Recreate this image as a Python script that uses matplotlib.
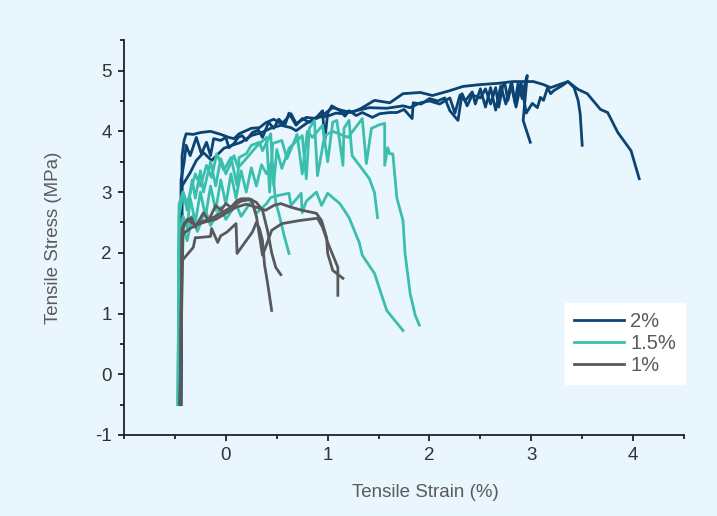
import matplotlib
matplotlib.use('Agg')
import matplotlib.pyplot as plt
from matplotlib.ticker import MultipleLocator

plt.rcParams['font.family'] = ['Liberation Sans', 'DejaVu Sans']
plt.rcParams['axes.unicode_minus'] = False

# ---- 2% samples (strain %, stress MPa) ----
s2_a_x = [-0.44, -0.43, -0.41, -0.39, -0.32, -0.25, -0.15, -0.05, 0.03, 0.08, 0.13, 0.25, 0.33, 0.39,
          0.47, 0.55, 0.64, 0.69, 0.79, 0.89, 0.97, 1.05, 1.15, 1.24, 1.33, 1.46, 1.61, 1.74, 1.91,
          2.03, 2.2, 2.33, 2.5, 2.67, 2.82, 3.02, 3.12, 3.19, 3.36, 3.46, 3.55, 3.68, 3.75, 3.85, 3.98, 4.06]
s2_a_y = [-0.5, 3.6, 3.85, 3.96, 3.95, 3.98, 4.0, 3.95, 3.9, 3.88, 3.96, 4.05, 4.06, 4.14,
          4.2, 4.12, 4.29, 4.13, 4.23, 4.21, 4.29, 4.39, 4.34, 4.31, 4.38, 4.51, 4.47, 4.62, 4.64,
          4.59, 4.67, 4.74, 4.77, 4.79, 4.82, 4.82, 4.77, 4.72, 4.82, 4.69, 4.62, 4.36, 4.31, 3.98, 3.68, 3.22]

s2_b_x = [-0.45, -0.44, -0.41, -0.39, -0.35, -0.29, -0.24, -0.19, -0.15, -0.12, -0.05, 0.0, 0.03, 0.08,
          0.12, 0.16, 0.2, 0.26, 0.32, 0.36, 0.42, 0.47, 0.52, 0.58, 0.62, 0.69, 0.75, 0.82, 0.89, 0.95,
          0.97, 1.0, 1.04, 1.12, 1.17, 1.21, 1.28, 1.34, 1.44, 1.51, 1.61, 1.68, 1.75, 1.83, 1.84, 1.92,
          2.0, 2.08, 2.15, 2.2, 2.28, 2.32, 2.37, 2.42, 2.5, 2.55, 2.6, 2.65, 2.68, 2.72, 2.74, 2.77,
          2.81, 2.84, 2.87, 2.91, 2.94, 2.96, 2.92, 2.99]
s2_b_y = [-0.5, 3.2, 3.49, 3.77, 3.6, 3.9, 3.63, 3.82, 3.6, 3.88, 3.85, 3.9, 3.73, 3.8,
          3.9, 3.93, 3.85, 3.98, 4.02, 3.9, 4.15, 4.05, 4.2, 4.1, 4.3, 4.1, 4.21, 4.15, 4.23, 4.34,
          3.82, 4.3, 4.42, 4.34, 4.25, 4.34, 4.26, 4.31, 4.23, 4.29, 4.31, 4.31, 4.36, 4.21, 4.47, 4.45,
          4.54, 4.5, 4.55, 4.34, 4.18, 4.62, 4.42, 4.6, 4.55, 4.7, 4.45, 4.72, 4.4, 4.75, 4.79, 4.51,
          4.79, 4.47, 4.79, 4.54, 4.8, 4.92, 4.18, 3.82]

s2_c_x = [-0.44, -0.43, -0.35, -0.29, -0.22, -0.14, -0.08, -0.02, 0.06, 0.15, 0.25, 0.35, 0.44, 0.54,
          0.64, 0.69, 0.79, 0.89, 1.0, 1.08, 1.15, 1.28, 1.41, 1.58, 1.74, 1.81, 1.91, 2.0, 2.1, 2.2,
          2.25, 2.3, 2.35, 2.42, 2.45, 2.5, 2.55, 2.6, 2.65, 2.7, 2.75, 2.8, 2.85, 2.9, 2.95, 3.01,
          3.06, 3.09, 3.12, 3.16, 3.19, 3.22, 3.3, 3.36, 3.42, 3.46, 3.48, 3.5]
s2_c_y = [-0.5, 3.1, 3.32, 3.52, 3.65, 3.52, 3.62, 3.72, 3.77, 3.82, 3.93, 3.98, 4.05, 4.1,
          4.06, 4.01, 4.13, 4.23, 4.25, 4.3, 4.29, 4.34, 4.39, 4.38, 4.42, 4.39, 4.47, 4.5, 4.45, 4.55,
          4.3, 4.6, 4.5, 4.65, 4.45, 4.7, 4.4, 4.72, 4.35, 4.75, 4.45, 4.78, 4.4, 4.8, 4.3, 4.46,
          4.39, 4.56, 4.51, 4.72, 4.62, 4.67, 4.75, 4.82, 4.72, 4.51, 4.29, 3.77]

# ---- 1.5% samples ----
s15_a_x = [-0.47, -0.46, -0.42, -0.38, -0.3, -0.25, -0.19, -0.14, -0.09, -0.02, 0.05, 0.11, 0.13, 0.2,
           0.25, 0.33, 0.36, 0.44, 0.47, 0.5, 0.55, 0.62, 0.75, 0.79, 0.82, 0.87, 0.9, 0.97, 1.05,
           1.2, 1.34, 1.38, 1.43, 1.51, 1.56, 1.56, 1.59, 1.61, 1.64, 1.68, 1.74, 1.76, 1.81, 1.86, 1.9]
s15_a_y = [-0.5, 2.6, 3.0, 2.8, 3.3, 3.1, 3.44, 3.24, 3.63, 3.36, 3.57, 3.11, 3.57, 3.63,
           3.77, 3.82, 3.68, 3.96, 3.11, 3.7, 3.39, 3.72, 3.93, 3.22, 4.05, 4.18, 3.27, 3.93, 4.0,
           3.9, 4.21, 3.47, 4.05, 4.11, 4.13, 3.44, 3.73, 3.63, 3.63, 2.9, 2.53, 1.99, 1.33, 0.97, 0.81]

s15_b_x = [-0.47, -0.46, -0.42, -0.38, -0.33, -0.3, -0.25, -0.22, -0.15, -0.1, -0.05, 0.0, 0.08, 0.12,
           0.2, 0.3, 0.4, 0.43, 0.46, 0.55, 0.6, 0.7, 0.75, 0.8, 0.85, 0.95, 1.0, 1.05, 1.09, 1.15,
           1.16, 1.21, 1.24, 1.33, 1.41, 1.46, 1.49]
s15_b_y = [-0.5, 2.8, 3.0, 2.7, 3.2, 2.9, 3.35, 3.0, 3.5, 3.1, 3.55, 3.3, 3.6, 3.4,
           3.55, 3.75, 3.9, 3.0, 3.8, 3.85, 3.55, 3.95, 3.3, 4.0, 3.9, 4.1, 3.5, 4.15, 4.18, 3.44,
           4.05, 4.18, 3.6, 3.4, 3.22, 2.99, 2.58]

s15_c_x = [-0.47, -0.46, -0.42, -0.38, -0.33, -0.28, -0.2, -0.15, -0.05, 0.0, 0.1, 0.15, 0.25, 0.3,
           0.4, 0.44, 0.53, 0.62, 0.64, 0.74, 0.75, 0.79, 0.89, 0.94, 1.0, 1.12, 1.21, 1.31, 1.34,
           1.46, 1.58, 1.74]
s15_c_y = [-0.5, 2.0, 2.4, 2.2, 2.6, 2.35, 2.7, 2.45, 2.75, 2.55, 2.8, 2.6, 2.85, 2.65,
           2.81, 2.91, 2.95, 2.98, 2.78, 2.98, 2.66, 2.85, 3.0, 2.78, 2.98, 2.81, 2.58, 2.17, 1.96,
           1.66, 1.05, 0.72]

s15_d_x = [-0.47, -0.46, -0.42, -0.38, -0.35, -0.3, -0.25, -0.2, -0.15, -0.1, -0.05, 0.0, 0.05, 0.1,
           0.15, 0.2, 0.25, 0.3, 0.35, 0.4, 0.45, 0.49, 0.52, 0.57, 0.62]
s15_d_y = [-0.5, 2.3, 2.6, 2.4, 2.9, 2.5, 3.0, 2.6, 3.1, 2.7, 3.2, 2.8, 3.3, 2.9,
           3.35, 3.0, 3.4, 3.1, 3.45, 3.3, 3.5, 2.83, 2.65, 2.3, 1.99]

# ---- 1% samples ----
s1_a_x = [-0.45, -0.43, -0.32, -0.3, -0.27, -0.15, -0.14, -0.08, -0.05, 0.01, 0.1, 0.11, 0.26, 0.3,
          0.33, 0.36, 0.38, 0.41, 0.45]
s1_a_y = [-0.5, 1.87, 2.09, 2.25, 2.25, 2.27, 2.4, 2.17, 2.28, 2.34, 2.48, 1.99, 2.34, 2.5,
          2.4, 2.2, 1.8, 1.5, 1.05]

s1_b_x = [-0.45, -0.42, -0.41, -0.34, -0.3, -0.22, -0.17, -0.1, -0.05, 0.0, 0.05, 0.11, 0.15, 0.23,
          0.3, 0.36, 0.41, 0.45, 0.49, 0.54]
s1_b_y = [-0.5, 2.4, 2.48, 2.58, 2.42, 2.66, 2.53, 2.78, 2.7, 2.81, 2.75, 2.86, 2.89, 2.89,
          2.83, 2.7, 2.36, 2.0, 1.76, 1.64]

s1_c_x = [-0.45, -0.43, -0.35, -0.25, -0.1, 0.05, 0.15, 0.25, 0.3, 0.36, 0.39, 0.45, 0.55, 0.72,
          0.9, 0.95, 1.0, 1.1, 1.1]
s1_c_y = [-0.5, 2.3, 2.4, 2.5, 2.6, 2.75, 2.85, 2.88, 2.6, 1.96, 2.09, 2.37, 2.48, 2.53,
          2.57, 2.42, 2.17, 1.76, 1.3]

s1_d_x = [-0.45, -0.43, -0.38, -0.3, -0.22, -0.1, 0.0, 0.1, 0.2, 0.3, 0.39, 0.47, 0.54, 0.64,
          0.75, 0.89, 0.94, 0.99, 1.0, 1.05, 1.15]
s1_d_y = [-0.5, 2.4, 2.55, 2.45, 2.5, 2.55, 2.65, 2.75, 2.8, 2.75, 2.7, 2.78, 2.81, 2.75,
          2.7, 2.65, 2.53, 2.25, 1.99, 1.71, 1.58]

c2 = '#0b4473'
c15 = '#3bbfad'
c1 = '#59595c'
bg = '#e9f6fe'

fig = plt.figure(figsize=(7.17, 5.16), dpi=100, facecolor=bg)
ax = fig.add_axes([0.173, 0.157, 0.781, 0.765])
ax.set_facecolor(bg)

lw = 2.0
for i, (x, y) in enumerate([(s2_a_x, s2_a_y), (s2_b_x, s2_b_y), (s2_c_x, s2_c_y)]):
    ax.plot(x, y, color=c2, lw=lw, label='2%' if i == 0 else None)
for i, (x, y) in enumerate([(s15_a_x, s15_a_y), (s15_b_x, s15_b_y), (s15_c_x, s15_c_y), (s15_d_x, s15_d_y)]):
    ax.plot(x, y, color=c15, lw=lw, label='1.5%' if i == 0 else None)
for i, (x, y) in enumerate([(s1_a_x, s1_a_y), (s1_b_x, s1_b_y), (s1_c_x, s1_c_y), (s1_d_x, s1_d_y)]):
    ax.plot(x, y, color=c1, lw=lw, label='1%' if i == 0 else None)

ax.set_xlim(-1.0, 4.5)
ax.set_ylim(-1.0, 5.5)
ax.set_xticks([0, 1, 2, 3, 4])
ax.set_yticks([-1, 0, 1, 2, 3, 4, 5])
ax.xaxis.set_minor_locator(MultipleLocator(0.5))
ax.yaxis.set_minor_locator(MultipleLocator(0.5))

for s in ['top', 'right']:
    ax.spines[s].set_visible(False)
for s in ['left', 'bottom']:
    ax.spines[s].set_linewidth(1.3)
    ax.spines[s].set_color('#222222')

ax.tick_params(which='major', direction='out', length=4, width=1.3, color='#222222',
               labelsize=13.5, labelcolor='#333333', pad=5)
ax.tick_params(which='minor', direction='out', length=3, width=1.3, color='#222222')

ax.set_xlabel('Tensile Strain (%)', fontsize=13.5, color='#5a5a5a')
ax.set_ylabel('Tensile Stress (MPa)', fontsize=13.5, color='#5a5a5a')
ax.xaxis.set_label_coords(0.5375, -0.125)
ax.yaxis.set_label_coords(-0.11, 0.5)

leg = ax.legend(loc='upper right', bbox_to_anchor=(1.002, 0.334), frameon=True, fancybox=False,
                fontsize=14.5, handlelength=2.5, handletextpad=0.3, labelspacing=0.15,
                borderpad=0.45, borderaxespad=0)
leg.get_frame().set_facecolor('white')
leg.get_frame().set_edgecolor('white')
leg.get_frame().set_alpha(1)
for t in leg.get_texts():
    t.set_color('#5a5a5a')

fig.savefig('out.png', dpi=100, facecolor=bg)
